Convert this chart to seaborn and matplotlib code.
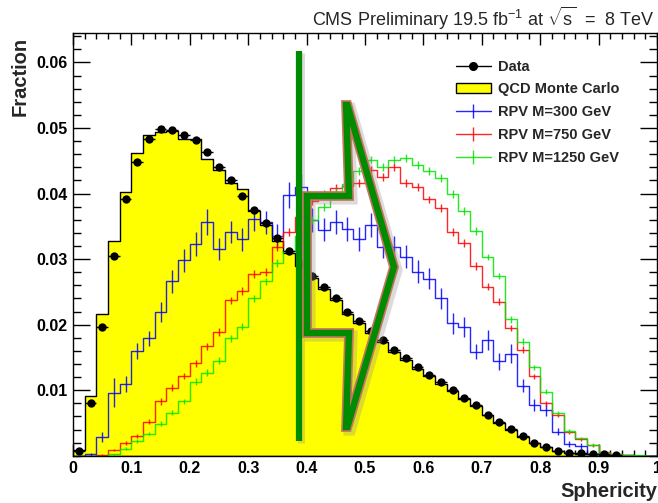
import numpy as np
import pandas as pd
import seaborn as sns
import matplotlib as mpl
from matplotlib import pyplot as plt
from matplotlib.lines import Line2D
from matplotlib.patches import Patch, Polygon
from matplotlib.ticker import MultipleLocator, FixedLocator, FuncFormatter

sns.set_theme(style='ticks')
plt.rcParams['font.family'] = ['Liberation Sans', 'DejaVu Sans']
plt.rcParams['mathtext.fontset'] = 'custom'
plt.rcParams['mathtext.rm'] = 'Liberation Sans'
plt.rcParams['mathtext.it'] = 'Liberation Sans:italic'
plt.rcParams['mathtext.bf'] = 'Liberation Sans:bold'

# 50 bins of 0.02 in sphericity
edges = [round(0.02 * i, 2) for i in range(51)]
centers = [round(0.02 * i + 0.01, 3) for i in range(50)]

data = [0.0008, 0.0080, 0.0197, 0.0305, 0.0392, 0.0448, 0.0483, 0.0498, 0.0497, 0.0490,
        0.0482, 0.0464, 0.0441, 0.0421, 0.0397, 0.0375, 0.0355, 0.0332, 0.0313, 0.0293,
        0.0274, 0.0257, 0.0240, 0.0219, 0.0206, 0.0191, 0.0176, 0.0162, 0.0149, 0.0135,
        0.0124, 0.0112, 0.0101, 0.0088, 0.0078, 0.0063, 0.0051, 0.0041, 0.0030, 0.0020,
        0.0014, 0.0008, 0.0005, 0.0004, 0.0003, 0.0002, 0.00015, 0, 0, 0]
data_err = 0.0003

qcd = [0.0009, 0.0091, 0.0217, 0.0327, 0.0402, 0.0462, 0.0490, 0.0494, 0.0495, 0.0483,
       0.0483, 0.0453, 0.0436, 0.0416, 0.0407, 0.0373, 0.0352, 0.0328, 0.0309, 0.0290,
       0.0271, 0.0254, 0.0237, 0.0216, 0.0203, 0.0188, 0.0173, 0.0159, 0.0146, 0.0133,
       0.0122, 0.0110, 0.0099, 0.0086, 0.0076, 0.0062, 0.0050, 0.0040, 0.0029, 0.0019,
       0.0013, 0.0007, 0.0004, 0.0003, 0.0002, 0.0001, 0.0001, 0.0001, 0, 0]

rpv300 = [0, 0.0002, 0.0029, 0.0096, 0.0110, 0.0160, 0.0179, 0.0219, 0.0266, 0.0298,
          0.0323, 0.0357, 0.0315, 0.0341, 0.0330, 0.0361, 0.0356, 0.0335, 0.0398, 0.0410,
          0.0360, 0.0345, 0.0357, 0.0346, 0.0331, 0.0352, 0.0319, 0.0319, 0.0304, 0.0281,
          0.0270, 0.0240, 0.0202, 0.0196, 0.0159, 0.0177, 0.0144, 0.0156, 0.0107, 0.0078,
          0.0070, 0.0037, 0.0018, 0.0015, 0.0003, 0.0002, 0.0001, 0, 0, 0]
rpv300_err = [0, 0.0002, 0.0008, 0.0022, 0.0012, 0.0012, 0.0012, 0.0015, 0.0018, 0.0018,
              0.0018, 0.0020, 0.0017, 0.0017, 0.0018, 0.0018, 0.0018, 0.0018, 0.0020, 0.0020,
              0.0018, 0.0018, 0.0018, 0.0018, 0.0018, 0.0018, 0.0018, 0.0017, 0.0017, 0.0017,
              0.0016, 0.0016, 0.0016, 0.0015, 0.0012, 0.0015, 0.0013, 0.0014, 0.0010, 0.0009,
              0.0009, 0.0006, 0.0004, 0.0004, 0.0002, 0.0001, 0, 0, 0, 0]

rpv750 = [0, 0, 0.0001, 0.0009, 0.0019, 0.0030, 0.0052, 0.0083, 0.0104, 0.0122,
          0.0141, 0.0167, 0.0189, 0.0237, 0.0252, 0.0277, 0.0281, 0.0319, 0.0341, 0.0365,
          0.0388, 0.0400, 0.0408, 0.0412, 0.0416, 0.0436, 0.0425, 0.0441, 0.0416, 0.0410,
          0.0391, 0.0378, 0.0342, 0.0324, 0.0289, 0.0258, 0.0235, 0.0195, 0.0162, 0.0121,
          0.0080, 0.0062, 0.0037, 0.0025, 0.0016, 0.0006, 0.0002, 0.0001, 0, 0]
rpv750_err = [0, 0, 0.0001, 0.0002, 0.0003, 0.0003, 0.0004, 0.0005, 0.0005, 0.0005,
              0.0005, 0.0005, 0.0006, 0.0006, 0.0006, 0.0006, 0.0006, 0.0006, 0.0006, 0.0006,
              0.0006, 0.0006, 0.0006, 0.0006, 0.0006, 0.0006, 0.0006, 0.0006, 0.0006, 0.0006,
              0.0006, 0.0006, 0.0006, 0.0006, 0.0006, 0.0005, 0.0005, 0.0005, 0.0005, 0.0004,
              0.0004, 0.0003, 0.0003, 0.0002, 0.0002, 0.0001, 0.0001, 0, 0, 0]

rpv1250 = [0, 0, 0, 0.0002, 0.0011, 0.0022, 0.0034, 0.0049, 0.0066, 0.0083,
           0.0113, 0.0127, 0.0145, 0.0179, 0.0197, 0.0240, 0.0266, 0.0294, 0.0312, 0.0335,
           0.0360, 0.0380, 0.0403, 0.0415, 0.0434, 0.0452, 0.0441, 0.0452, 0.0454, 0.0444,
           0.0435, 0.0424, 0.0399, 0.0374, 0.0343, 0.0303, 0.0274, 0.0208, 0.0174, 0.0135,
           0.0098, 0.0065, 0.0038, 0.0027, 0.0017, 0.0005, 0.0002, 0.0001, 0.0001, 0]
rpv1250_err = [0, 0, 0, 0.0001, 0.0002, 0.0003, 0.0003, 0.0004, 0.0004, 0.0004,
               0.0005, 0.0005, 0.0005, 0.0005, 0.0005, 0.0006, 0.0006, 0.0006, 0.0006, 0.0006,
               0.0006, 0.0006, 0.0006, 0.0006, 0.0006, 0.0006, 0.0006, 0.0006, 0.0006, 0.0006,
               0.0006, 0.0006, 0.0006, 0.0006, 0.0006, 0.0005, 0.0005, 0.0005, 0.0005, 0.0004,
               0.0004, 0.0003, 0.0003, 0.0002, 0.0002, 0.0001, 0.0001, 0, 0, 0]

signals = [('RPV M=300 GeV', rpv300, rpv300_err, '#0000ff'),
           ('RPV M=750 GeV', rpv750, rpv750_err, '#ff0000'),
           ('RPV M=1250 GeV', rpv1250, rpv1250_err, '#00e600')]

df = pd.DataFrame({'x': centers, 'data': data, 'qcd': qcd})

fig = plt.figure(figsize=(6.58, 5.03), dpi=100)
ax = fig.add_axes([73 / 658, 47.2 / 503, 584 / 658, 422.8 / 503])

# QCD background, filled yellow step
sns.histplot(data=df, x='x', weights='qcd', bins=edges, element='step', fill=True,
             color='#ffff00', alpha=1, edgecolor='black', linewidth=1.0, ax=ax)

# signal shapes with error bars
for name, vals, errs, col in signals:
    sdf = pd.DataFrame({'x': centers, 'w': vals})
    sns.histplot(data=sdf, x='x', weights='w', bins=edges, element='step', fill=False,
                 color=col, linewidth=1.0, alpha=0.85, ax=ax)
    ax.errorbar(centers, vals, yerr=errs, fmt='none', ecolor=col, elinewidth=1.0, alpha=0.85)

# data points
dd = df[df['data'] > 0]
ax.errorbar(dd['x'], dd['data'], xerr=0.01, yerr=data_err, fmt='none', ecolor='black', elinewidth=1.0)
sns.scatterplot(data=dd, x='x', y='data', color='black', s=36, edgecolor='black', linewidth=0, ax=ax, zorder=5)

ax.set_xlim(0, 1)
ax.set_ylim(0, 0.0645)
ax.xaxis.set_major_locator(MultipleLocator(0.1))
ax.xaxis.set_minor_locator(MultipleLocator(0.02))
ax.yaxis.set_major_locator(FixedLocator([0.01, 0.02, 0.03, 0.04, 0.05, 0.06]))
ax.yaxis.set_minor_locator(MultipleLocator(0.002))
ax.xaxis.set_major_formatter(FuncFormatter(lambda v, p: f'{v:g}'))
ax.yaxis.set_major_formatter(FuncFormatter(lambda v, p: f'{v:.2f}'))
ax.tick_params(which='both', direction='in', top=True, right=True, width=1, colors='black')
ax.tick_params(axis='x', which='major', length=8.5, pad=4)
ax.tick_params(axis='x', which='minor', length=4.3)
ax.tick_params(axis='y', which='major', length=12, pad=4)
ax.tick_params(axis='y', which='minor', length=6)
for lab in ax.get_xticklabels() + ax.get_yticklabels():
    lab.set_fontweight('bold')
    lab.set_fontsize(11.5)
for sp in ax.spines.values():
    sp.set_linewidth(1.0)
    sp.set_color('black')

ax.set_xlabel('Sphericity', loc='right', fontsize=14.5, fontweight='bold', labelpad=4)
ax.set_ylabel('Fraction', loc='top', fontsize=14.5, fontweight='bold')
ax.yaxis.set_label_coords(-0.075, 0.99)

fig.text(655 / 658, 1 - 26 / 503, 'CMS Preliminary 19.5 fb$^{-1}$ at $\\sqrt{\\mathrm{s}}$  =  8 TeV',
         ha='right', va='baseline', fontsize=13)

handles = [Line2D([0], [0], color='black', marker='o', markersize=5.5, lw=1.0),
           Patch(facecolor='#ffff00', edgecolor='black', linewidth=1.0)]
for name, vals, errs, col in signals:
    handles.append(Line2D([0], [0], color=col, marker='|', markersize=10, markeredgewidth=1, lw=1.0, alpha=0.85))
labels = ['Data', 'QCD Monte Carlo'] + [s[0] for s in signals]
ax.legend(handles, labels, loc='upper left', bbox_to_anchor=(0.655, 0.937), frameon=False,
          prop={'weight': 'bold', 'size': 10.5}, handlelength=2.4, handletextpad=0.5,
          labelspacing=0.6, borderpad=0, borderaxespad=0)

# overlay: thick vertical cut line and outlined block arrow
def ax_frac(px, py):
    return ((px - 73) / 584, (455.8 - py) / 422.8)

# sharp tips split in two close points so the stroke joins stay short
arrow_px = [(307, 196), (349, 196), (346.1, 105), (347.4, 105), (394, 267),
            (347.4, 427), (346.1, 427), (349, 333), (307, 333)]
pts = [ax_frac(*p) for p in arrow_px]
shadow = [(x + 3 / 584, y - 3 / 422.8) for x, y in pts]
ax.add_patch(Polygon(shadow, closed=True, fill=False, edgecolor='#888888', alpha=0.3,
                     linewidth=8, joinstyle='miter', transform=ax.transAxes, zorder=10))
ax.add_patch(Polygon(pts, closed=True, fill=False, edgecolor='#c8735f', linewidth=7,
                     joinstyle='miter', transform=ax.transAxes, zorder=11))
ax.add_patch(Polygon(pts, closed=True, fill=False, edgecolor='#008c00', linewidth=4.6,
                     joinstyle='miter', transform=ax.transAxes, zorder=12))

bx0, by0 = ax_frac(299, 51)
bx1, by1 = ax_frac(299, 441)
ax.plot([bx0 + 2 / 584, bx1 + 2 / 584], [by0 - 2 / 422.8, by1 - 2 / 422.8], color='#888888', alpha=0.3,
        lw=5, solid_capstyle='butt', transform=ax.transAxes, zorder=10)
ax.plot([bx0, bx1], [by0, by1], color='#008c00', lw=4.5, solid_capstyle='butt',
        transform=ax.transAxes, zorder=12)

fig.savefig('out.png', dpi=100)
